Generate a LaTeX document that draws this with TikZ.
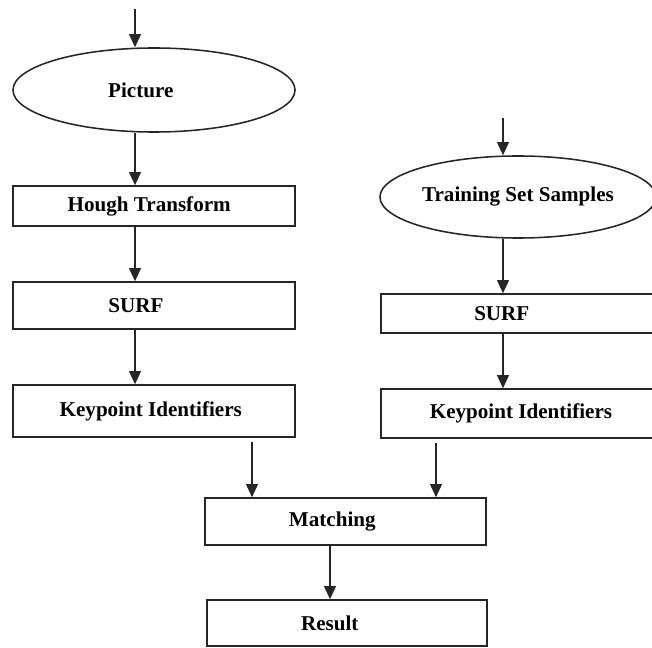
\documentclass[tikz,border=0pt]{standalone}
\usepackage{fontspec}
\setmainfont{Liberation Serif}
\usepackage{tikz}
\usetikzlibrary{arrows.meta, positioning, calc, shapes.geometric}

\begin{document}
\begin{tikzpicture}[
  x=0.025cm, y=-0.025cm,
  arrow/.style={-{Triangle[length=0.33cm, width=0.3cm]}, line width=0.9pt, black!85},
  boxtext/.style={font=\fontsize{15}{18}\selectfont\bfseries, inner sep=0pt},
  stepbox/.style={draw=black!85, line width=1.1pt, rectangle, minimum width=7.05cm, inner sep=0pt},
  inbubble/.style={draw=black!85, line width=1.1pt, ellipse, inner sep=0pt}
]
\useasboundingbox (0,0) rectangle (652,648);
% left column
\node[inbubble, minimum width=7.05cm, minimum height=2.1cm, label={[boxtext, xshift=-0.33cm]center:Picture}] (picture) at (154,90) {};
\node[stepbox, minimum height=1.0cm, label={[boxtext, xshift=-0.12cm]center:Hough Transform}] (hough) at (154,206) {};
\node[stepbox, minimum height=1.175cm, label={[boxtext, xshift=-0.45cm]center:SURF}] (surfL) at (154,305.5) {};
\node[stepbox, minimum height=1.3cm, label={[boxtext, xshift=-0.08cm]center:Keypoint Identifiers}] (keyL) at (154,411) {};
% right column
\node[inbubble, minimum width=6.9cm, minimum height=2.05cm, label={[boxtext]center:Training Set Samples}] (training) at (518,197) {};
\node[stepbox, minimum width=7.0cm, minimum height=0.975cm, label={[boxtext, xshift=-0.48cm]center:SURF}] (surfR) at (521,313.5) {};
\node[stepbox, minimum width=7.0cm, minimum height=1.225cm, label={[boxtext]center:Keypoint Identifiers}] (keyR) at (521,413.5) {};
% bottom
\node[stepbox, minimum width=7.025cm, minimum height=1.175cm, label={[boxtext, xshift=-0.33cm]center:Matching}] (matching) at (345.5,521.5) {};
\node[stepbox, minimum width=7.0cm, minimum height=1.15cm, label={[boxtext, xshift=-0.43cm]center:Result}] (result) at (347,623) {};
% arrows
\coordinate (inL) at (135,9);
\coordinate (inR) at (503,118);
\coordinate (dropL) at (252,442);
\coordinate (dropR) at (436,443);
\coordinate (dropM) at (330,0);
\draw[arrow] (inL) -- (inL |- picture.north);
\draw[arrow] (inL |- picture.south) -- (inL |- hough.north);
\draw[arrow] (inL |- hough.south) -- (inL |- surfL.north);
\draw[arrow] (inL |- surfL.south) -- (inL |- keyL.north);
\draw[arrow] (inR) -- (inR |- training.north);
\draw[arrow] (inR |- training.south) -- (inR |- surfR.north);
\draw[arrow] (inR |- surfR.south) -- (inR |- keyR.north);
\draw[arrow] (dropL) -- (dropL |- matching.north);
\draw[arrow] (dropR) -- (dropR |- matching.north);
\draw[arrow] (dropM |- matching.south) -- (dropM |- result.north);
\end{tikzpicture}
\end{document}
